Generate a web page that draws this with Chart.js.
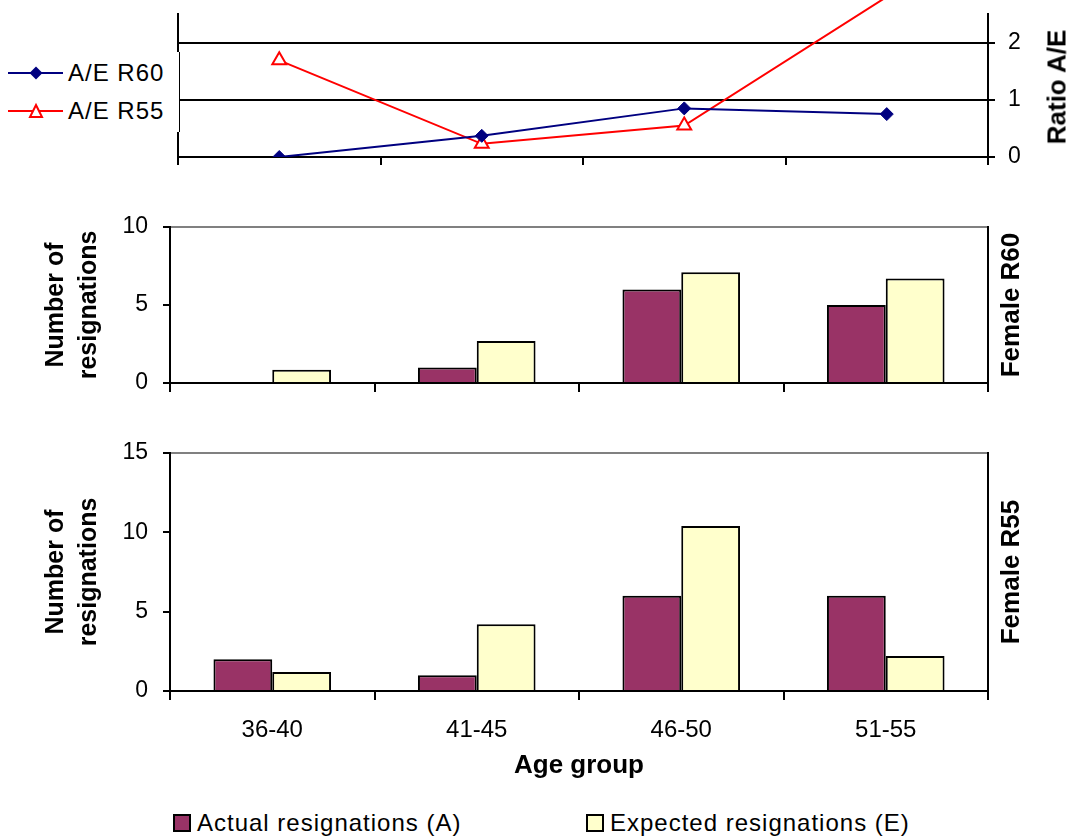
<!DOCTYPE html>
<html>
<head>
<meta charset="utf-8">
<script src="https://cdn.jsdelivr.net/npm/chart.js@4.4.0/dist/chart.umd.min.js"></script>
<style>
  body { margin: 0; background: #fff; font-family: Arial, "Liberation Sans", sans-serif; }
  #wrap { position: relative; width: 1077px; height: 839px; overflow: hidden; }
  canvas { position: absolute; left: 0; }
  .side { position: absolute; font-weight: bold; font-size: 26px; white-space: nowrap;
          transform: translate(-50%, -50%) rotate(-90deg); color: #000; }
  .leg { position: absolute; font-size: 24px; letter-spacing: 1px; white-space: nowrap;
         line-height: 30px; color: #000; }
  .swatch { position: absolute; width: 18px; height: 18px; box-sizing: border-box; border: 2px solid #000; }
</style>
</head>
<body>
<div id="wrap">
  <canvas id="ratioChart" width="1077" height="180" style="top:0"></canvas>
  <canvas id="r60Chart" width="1077" height="215" style="top:200px"></canvas>
  <canvas id="r55Chart" width="1077" height="370" style="top:430px"></canvas>

  <!-- legend of the ratio panel, it sits over the left axis like in Excel -->
  <div style="position:absolute;left:0;top:52px;width:179px;height:80px;background:#fff;border-right:1px solid #000"></div>
  <svg style="position:absolute;left:0;top:52px" width="70" height="80">
    <line x1="8" y1="21" x2="63" y2="21" stroke="#000080" stroke-width="2"/>
    <polygon points="36,14.5 42.5,21 36,27.5 29.5,21" fill="#000080"/>
    <line x1="8" y1="59" x2="63" y2="59" stroke="#ff0000" stroke-width="2"/>
    <polygon points="36,53 42,65 30,65" fill="#fff" stroke="#ff0000" stroke-width="2"/>
  </svg>
  <div class="leg" style="left:68px;top:58px">A/E R60</div>
  <div class="leg" style="left:68px;top:96px">A/E R55</div>

  <div class="side" style="left:1057px;top:87px">Ratio A/E</div>
  <div class="side" style="left:1010px;top:305px">Female R60</div>
  <div class="side" style="left:1010px;top:572px">Female R55</div>

  <div class="swatch" style="left:173px;top:814px;background:#993366"></div>
  <div class="leg" style="left:197px;top:808px">Actual resignations (A)</div>
  <div class="swatch" style="left:586px;top:814px;background:#ffffcc"></div>
  <div class="leg" style="left:610px;top:808px">Expected resignations (E)</div>
</div>

<script>
// age groups along the x axis
const ageGroups = ['36-40', '41-45', '46-50', '51-55'];

// Female R60 resignations
const r60Actual = [0, 1, 6, 5];
const r60Expected = [0.85, 2.7, 7.1, 6.7];

// Female R55 resignations
const r55Actual = [2, 1, 6, 6];
const r55Expected = [1.2, 4.2, 10.4, 2.2];

// A/E ratios (top panel)
const ratioR60 = [0, 0.37, 0.85, 0.75];
const ratioR55 = [1.69, 0.23, 0.55, 2.8];

const tickFont = { family: 'Arial, "Liberation Sans", sans-serif', size: 23 };
const titleFont = { family: 'Arial, "Liberation Sans", sans-serif', size: 25, weight: 'bold', lineHeight: 1.3 };
const black = '#000';
const maroon = '#993366';
const cream = '#ffffcc';

Chart.defaults.color = black;
Chart.defaults.animation = false;

// fixed box size, and no extra room for half tick labels
function fixBox(w, h) {
	return s => {
		if (w != null) s.width = w;
		if (h != null) s.height = h;
		s.paddingTop = 0;
		s.paddingBottom = 0;
		s.paddingLeft = 0;
		s.paddingRight = 0;
	};
}

// ---- top panel: A/E ratio lines ----
new Chart(document.getElementById('ratioChart'), {
	type: 'line',
	data: {
		labels: ageGroups,
		datasets: [{
			label: 'A/E R60',
			data: ratioR60,
			borderColor: '#000080',
			backgroundColor: '#000080',
			borderWidth: 2,
			pointStyle: 'rectRot',
			pointRadius: 6.5,
			pointBorderWidth: 1,
			tension: 0
		}, {
			label: 'A/E R55',
			data: ratioR55,
			borderColor: '#ff0000',
			backgroundColor: '#fff',
			borderWidth: 2,
			pointStyle: 'triangle',
			pointRadius: 8,
			pointBorderWidth: 2,
			tension: 0,
			clip: { left: 0, top: false, right: 0, bottom: 0 }
		}]
	},
	options: {
		responsive: false,
		layout: { padding: { top: 14 } },
		plugins: { legend: { display: false }, tooltip: { enabled: false } },
		scales: {
			x: {
				offset: true,
				grid: { offset: true, drawOnChartArea: false, color: black, lineWidth: 2, tickLength: 8 },
				border: { color: black, width: 2 },
				ticks: { display: false },
				afterFit: fixBox(null, 23)
			},
			yL: {
				position: 'left',
				min: 0,
				max: 2.5,
				ticks: { display: false },
				grid: { display: false },
				border: { color: black, width: 2 },
				afterFit: fixBox(178, null)
			},
			y: {
				position: 'right',
				min: 0,
				max: 2.5,
				afterBuildTicks: s => { s.ticks = s.ticks.filter(t => t.value <= 2); },
				ticks: { stepSize: 1, font: tickFont, padding: 13 },
				grid: { color: black, lineWidth: 2, tickLength: 7 },
				border: { color: black, width: 2 },
				afterFit: fixBox(89, null)
			}
		}
	}
});

// shared options for the two bar panels
function barOptions(maxY, withLabels) {
	return {
		responsive: false,
		layout: { padding: { top: withLabels ? 23 : 27 } },
		plugins: { legend: { display: false }, tooltip: { enabled: false } },
		scales: {
			x: {
				offset: true,
				grid: { offset: true, drawOnChartArea: false, color: black, lineWidth: 2, tickLength: 9 },
				border: { color: black, width: 2 },
				ticks: { display: withLabels, font: { family: tickFont.family, size: 24 }, padding: 16, maxRotation: 0 },
				title: {
					display: withLabels,
					text: 'Age group',
					font: { family: titleFont.family, size: 26, weight: 'bold', lineHeight: 1.2 },
					padding: { top: 0, bottom: 19 }
				},
				afterFit: fixBox(null, withLabels ? 109 : 32)
			},
			y: {
				position: 'left',
				min: 0,
				max: maxY,
				ticks: { stepSize: 5, font: tickFont, padding: 15 },
				grid: {
					color: c => (c.tick && c.tick.value === maxY) ? '#808080' : 'rgba(0,0,0,0)',
					tickColor: black,
					lineWidth: 2,
					tickLength: 7
				},
				border: { color: black, width: 2 },
				title: { display: true, text: ['Number of', 'resignations'], font: titleFont, padding: { top: 40, bottom: 0 } },
				afterFit: fixBox(170, null)
			},
			y2: {
				position: 'right',
				ticks: { display: false },
				grid: { display: false },
				border: { color: black, width: 2 },
				afterFit: fixBox(89, null)
			}
		}
	};
}

function barData(actual, expected) {
	return {
		labels: ageGroups,
		datasets: [{
			label: 'Actual resignations (A)',
			data: actual,
			backgroundColor: maroon,
			borderColor: black,
			borderWidth: 2,
			borderSkipped: 'start',
			categoryPercentage: 0.575,
			barPercentage: 1
		}, {
			label: 'Expected resignations (E)',
			data: expected,
			backgroundColor: cream,
			borderColor: black,
			borderWidth: 2,
			borderSkipped: 'start',
			categoryPercentage: 0.575,
			barPercentage: 1
		}]
	};
}

new Chart(document.getElementById('r60Chart'), {
	type: 'bar',
	data: barData(r60Actual, r60Expected),
	options: barOptions(10, false)
});

new Chart(document.getElementById('r55Chart'), {
	type: 'bar',
	data: barData(r55Actual, r55Expected),
	options: barOptions(15, true)
});
</script>
</body>
</html>
